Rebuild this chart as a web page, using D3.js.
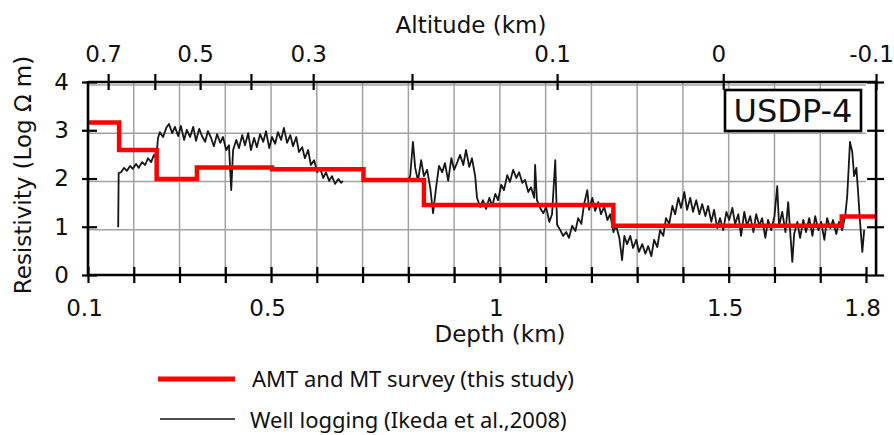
<!DOCTYPE html>
<html lang="en">
<head>
<meta charset="UTF-8">
<title>USDP-4 resistivity profile</title>
<script src="https://d3js.org/d3.v7.min.js"></script>
<style>
  body { margin: 0; background: #fff; }
  text { font-family: "DejaVu Sans", sans-serif; fill: #111; }
  .legend text { font-family: "Noto Sans", sans-serif; }
</style>
</head>
<body>
<script>
// axis ticks
const depthTicks = [0.1, 0.2, 0.3, 0.4, 0.5, 0.6, 0.7, 0.8, 0.9, 1, 1.1, 1.2, 1.3, 1.4, 1.5, 1.6, 1.7, 1.8];
const depthLabels = [0.1, 0.5, 1, 1.5, 1.8];
const resTicks = [0, 1, 2, 3, 4];
const gridDepths = [0.2, 0.3, 0.4, 0.5, 0.6, 0.7, 0.8, 0.9, 1, 1.1, 1.2, 1.3, 1.4, 1.5, 1.6, 1.7];
const gridRes = [1, 2, 3, 4];

// altitude of the well at a given depth (non linear)
const altitudeTicks = [0.7, 0.6, 0.5, 0.4, 0.3, 0.2, 0.1, 0, -0.1];
const altitudeDepth = [0.144, 0.246, 0.345, 0.456, 0.592, 0.808, 1.125, 1.488, 1.822];
const altitudeLabels = [0.7, 0.5, 0.3, 0.1, 0, -0.1];

// AMT and MT survey (step model)
const amtDepth = [0.1, 0.168, 0.250, 0.338, 0.502, 0.702, 0.834, 1.248, 1.747, 1.822];
const amtRes = [3.16, 2.59, 1.99, 2.23, 2.19, 1.97, 1.45, 1.02, 1.21];

// well logging, upper section
const wellDepthA = [0.166, 0.167, 0.172, 0.179, 0.185, 0.192, 0.198, 0.205, 0.211, 0.218, 0.225, 0.231, 0.238, 0.244, 0.249,
  0.253, 0.257, 0.264, 0.271, 0.277, 0.284, 0.290, 0.297, 0.303, 0.310, 0.316, 0.323, 0.330, 0.336, 0.343, 0.349,
  0.356, 0.362, 0.369, 0.375, 0.382, 0.389, 0.395, 0.402, 0.408, 0.413, 0.417, 0.424, 0.430, 0.437, 0.443, 0.450,
  0.456, 0.463, 0.469, 0.476, 0.483, 0.489, 0.496, 0.502, 0.509, 0.515, 0.522, 0.528, 0.535, 0.542, 0.548, 0.555,
  0.561, 0.568, 0.574, 0.581, 0.587, 0.594, 0.601, 0.607, 0.614, 0.620, 0.627, 0.633, 0.640, 0.647, 0.653, 0.657];
const wellResA = [0.99, 2.11, 2.13, 2.22, 2.16, 2.26, 2.20, 2.30, 2.22, 2.34, 2.28, 2.42, 2.34, 2.49, 2.42,
  2.84, 2.96, 2.86, 3.05, 3.13, 2.94, 3.07, 2.88, 3.09, 2.80, 3.01, 2.86, 3.07, 2.78, 3.03, 2.88,
  2.76, 2.98, 2.84, 2.67, 2.92, 2.74, 2.86, 2.59, 2.69, 1.76, 2.59, 2.80, 2.63, 2.90, 2.69, 2.94,
  2.59, 2.84, 2.65, 2.92, 2.76, 2.98, 2.63, 2.86, 2.72, 2.96, 2.80, 3.05, 2.74, 2.90, 2.67, 2.86,
  2.55, 2.65, 2.42, 2.59, 2.28, 2.38, 2.13, 2.22, 2.01, 2.13, 1.95, 2.05, 1.89, 1.99, 1.91, 1.95];

// well logging, lower section
const wellDepthB = [0.797, 0.804, 0.810, 0.815, 0.821, 0.828, 0.834, 0.841, 0.848, 0.854, 0.861, 0.867, 0.874, 0.880,
  0.887, 0.894, 0.900, 0.907, 0.913, 0.920, 0.926, 0.933, 0.939, 0.946, 0.950, 0.957, 0.963, 0.970, 0.977, 0.983,
  0.990, 0.996, 1.003, 1.009, 1.016, 1.022, 1.029, 1.036, 1.042, 1.049, 1.055, 1.062, 1.068, 1.075, 1.077, 1.081,
  1.088, 1.095, 1.101, 1.108, 1.114, 1.121, 1.125, 1.132, 1.138, 1.145, 1.151, 1.158, 1.165, 1.171, 1.178, 1.184,
  1.191, 1.195, 1.202, 1.208, 1.215, 1.221, 1.228, 1.235, 1.241, 1.248, 1.254, 1.261, 1.267, 1.272, 1.278, 1.285,
  1.291, 1.298, 1.304, 1.311, 1.318, 1.324, 1.331, 1.337, 1.344, 1.350, 1.357, 1.363, 1.370, 1.377, 1.383, 1.390,
  1.396, 1.403, 1.409, 1.416, 1.422, 1.429, 1.436, 1.442, 1.449, 1.455, 1.462, 1.468, 1.475, 1.481, 1.488, 1.495,
  1.501, 1.508, 1.514, 1.521, 1.527, 1.534, 1.540, 1.547, 1.554, 1.560, 1.567, 1.573, 1.580, 1.586, 1.593, 1.600,
  1.606, 1.610, 1.617, 1.624, 1.630, 1.635, 1.639, 1.643, 1.650, 1.656, 1.663, 1.669, 1.676, 1.683, 1.689, 1.696,
  1.702, 1.709, 1.715, 1.722, 1.728, 1.735, 1.741, 1.748, 1.755, 1.759, 1.763, 1.765, 1.770, 1.774, 1.779, 1.783,
  1.787, 1.792, 1.796];
const wellResB = [1.93, 2.05, 2.76, 2.22, 1.95, 2.38, 2.05, 2.18, 1.80, 1.28, 1.84, 2.26, 2.13, 2.32,
  1.95, 2.42, 2.18, 2.34, 2.49, 2.28, 2.59, 2.24, 2.42, 2.05, 1.60, 1.41, 1.55, 1.37, 1.60, 1.43,
  1.68, 1.55, 1.87, 1.76, 2.07, 1.93, 2.18, 2.01, 2.13, 1.91, 1.97, 1.72, 1.82, 1.60, 2.28, 1.55,
  1.39, 1.28, 1.41, 1.10, 1.26, 2.38, 1.04, 0.93, 0.81, 0.89, 0.77, 1.02, 0.91, 1.18, 1.06, 1.47,
  1.76, 1.35, 1.60, 1.33, 1.51, 1.26, 1.41, 1.14, 1.26, 0.89, 1.02, 0.77, 0.31, 0.81, 0.64, 0.81,
  0.56, 0.73, 0.48, 0.64, 0.44, 0.60, 0.39, 0.73, 0.58, 0.93, 0.81, 1.18, 1.06, 1.43, 1.26, 1.60,
  1.39, 1.72, 1.35, 1.60, 1.31, 1.55, 1.26, 1.47, 1.22, 1.43, 1.10, 1.35, 0.97, 1.18, 0.93, 1.31,
  1.14, 1.39, 1.06, 1.26, 0.81, 1.31, 1.02, 1.22, 0.89, 1.26, 1.02, 1.18, 0.77, 1.14, 0.93, 1.22,
  1.84, 1.02, 1.31, 0.89, 1.51, 0.81, 0.27, 0.85, 1.10, 0.77, 1.14, 0.89, 1.18, 0.81, 1.22, 0.93,
  1.10, 0.73, 1.18, 0.97, 1.14, 0.85, 1.10, 0.93, 1.26, 1.64, 2.38, 2.76, 2.55, 2.05, 2.22, 1.68,
  1.10, 0.48, 0.93];

const width = 894, height = 435;

const svg = d3.select("body").append("svg")
  .attr("width", width)
  .attr("height", height);

const x = d3.scaleLinear().domain([0.1, 1.8]).range([88, 866]);
const y = d3.scaleLinear().domain([0, 4]).range([275, 82]);
// altitude -> pixel, through the depth of each altitude tick
const xAlt = d3.scaleLinear().domain(altitudeTicks).range(altitudeDepth.map(d => x(d)));

const plotLeft = x(0.1), plotRight = x(altitudeDepth[altitudeDepth.length - 1]);
const plotTop = y(4), plotBottom = y(0);

// gray grid (from the logging chart)
const grid = svg.append("g").attr("stroke", "#8c8c8c").attr("stroke-width", 1.5).attr("opacity", 0.8);
grid.selectAll(".vg").data(gridDepths).enter().append("line")
  .attr("x1", d => x(d)).attr("x2", d => x(d))
  .attr("y1", plotTop).attr("y2", plotBottom);
grid.selectAll(".hg").data(gridRes).enter().append("line")
  .attr("x1", plotLeft).attr("x2", x(1.8))
  .attr("y1", d => y(d) + 3).attr("y2", d => y(d) + 3);

// well logging
const line = d3.line().x(d => x(d[0])).y(d => y(d[1]));
[[wellDepthA, wellResA], [wellDepthB, wellResB]].forEach(([ds, vs]) => {
  svg.append("path")
    .datum(ds.map((d, i) => [d, vs[i]]))
    .attr("fill", "none")
    .attr("stroke", "#161616")
    .attr("stroke-width", 1.8)
    .attr("stroke-linejoin", "round")
    .attr("d", line);
});

// AMT / MT step line
const stepLine = d3.line().curve(d3.curveStepAfter).x(d => x(d[0])).y(d => y(d[1]));
svg.append("path")
  .datum(amtDepth.map((d, i) => [d, amtRes[Math.min(i, amtRes.length - 1)]]))
  .attr("fill", "none")
  .attr("stroke", "#ff0000")
  .attr("stroke-width", 4.5)
  .attr("d", stepLine);

// frame
const frame = svg.append("g").attr("stroke", "#000").attr("stroke-width", 2.6);
frame.append("line").attr("x1", plotLeft).attr("x2", plotLeft).attr("y1", plotTop - 1).attr("y2", plotBottom + 1);
frame.append("line").attr("x1", plotLeft).attr("x2", plotRight).attr("y1", plotTop).attr("y2", plotTop);
frame.append("line").attr("x1", plotRight).attr("x2", plotRight).attr("y1", plotTop - 1).attr("y2", plotBottom + 1);
frame.append("line").attr("x1", plotLeft).attr("x2", x(1.8)).attr("y1", plotBottom).attr("y2", plotBottom);

function styleAxis(g) {
  g.select(".domain").remove();
  g.selectAll(".tick line").attr("stroke", "#000").attr("stroke-width", 2.2);
  g.selectAll(".tick text").attr("fill", "#111").style("font-size", "23px")
    .style("font-family", "'DejaVu Sans', sans-serif");
}

// bottom: depth
svg.append("g")
  .attr("transform", `translate(0,${plotBottom - 8})`)
  .call(d3.axisBottom(x).tickValues(depthTicks).tickSize(16).tickPadding(17)
    .tickFormat(d => depthLabels.includes(d) ? String(d) : ""))
  .call(styleAxis)
  .selectAll(".tick text").attr("dx", -4);

// top: altitude
svg.append("g")
  .attr("transform", `translate(0,${plotTop + 8})`)
  .call(d3.axisTop(xAlt).tickValues(altitudeTicks).tickSize(16).tickPadding(12)
    .tickFormat(d => altitudeLabels.includes(d) ? String(d) : ""))
  .call(styleAxis)
  .selectAll(".tick text").attr("dx", -5);

// left: resistivity
svg.append("g")
  .attr("transform", `translate(${plotLeft + 9},0)`)
  .call(d3.axisLeft(y).tickValues(resTicks).tickSize(15).tickPadding(13).tickFormat(d3.format("d")))
  .call(styleAxis);

// right: ticks only
svg.append("g")
  .attr("transform", `translate(${plotRight - 9},0)`)
  .call(d3.axisRight(y).tickValues(resTicks).tickSize(17).tickFormat(""))
  .call(styleAxis);

// titles
svg.append("text").attr("x", 471).attr("y", 33).attr("text-anchor", "middle")
  .style("font-size", "23px").text("Altitude (km)");
svg.append("text").attr("x", 500).attr("y", 342).attr("text-anchor", "middle")
  .style("font-size", "23px").text("Depth (km)");
svg.append("text").attr("transform", "translate(31,175) rotate(-90)").attr("text-anchor", "middle")
  .style("font-size", "23px").text("Resistivity (Log Ω m)");

// well label box
const tag = svg.append("g");
tag.append("rect").attr("x", 725).attr("y", 90).attr("width", 136).attr("height", 41)
  .attr("fill", "#fff").attr("stroke", "#000").attr("stroke-width", 2.6);
tag.append("text").attr("x", 793).attr("y", 122).attr("text-anchor", "middle")
  .style("font-size", "32px").text("USDP-4");

// legend
const legend = svg.append("g").attr("class", "legend");
legend.append("line").attr("x1", 158).attr("x2", 235).attr("y1", 379).attr("y2", 379)
  .attr("stroke", "#ff0000").attr("stroke-width", 5);
legend.append("text").attr("x", 252).attr("y", 387).style("font-size", "22px")
  .text("AMT and MT survey (this study)");
legend.append("line").attr("x1", 160).attr("x2", 235).attr("y1", 419).attr("y2", 419)
  .attr("stroke", "#111").attr("stroke-width", 1.5);
legend.append("text").attr("x", 250).attr("y", 428).style("font-size", "22px")
  .text("Well logging (Ikeda et al.,2008)");
</script>
</body>
</html>
